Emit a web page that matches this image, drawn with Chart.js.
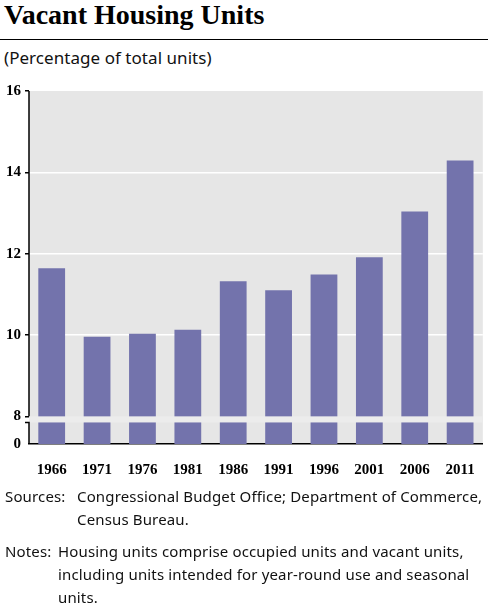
<!DOCTYPE html>
<html lang="en">
<head>
<meta charset="UTF-8">
<title>Vacant Housing Units</title>
<script src="https://cdn.jsdelivr.net/npm/chart.js@4.4.1/dist/chart.umd.min.js"></script>
<style>
  body { margin: 0; width: 492px; height: 604px; background: #fff; position: relative; overflow: hidden; }
  #title { position: absolute; left: 4px; top: -1px; font: bold 28px "Liberation Serif", serif; color: #000; }
  #rule { position: absolute; left: 0; top: 39px; width: 488px; height: 0; border-top: 1.5px solid #000; }
  #sub { position: absolute; left: 4px; top: 46px; font: 17px "Noto Sans", sans-serif; letter-spacing: 0.05px; color: #111; }
  #wrap { position: absolute; left: 0; top: 78px; width: 492px; height: 410px; }
  .note { position: absolute; left: 5px; display: flex; font: 15px "Noto Sans", sans-serif; letter-spacing: 0.15px; color: #111; line-height: 23px; }
  .note .lab { flex: none; }
</style>
</head>
<body>
<div id="title">Vacant Housing Units</div>
<div id="rule"></div>
<div id="sub">(Percentage of total units)</div>
<div id="wrap"><canvas id="mychart" width="492" height="410"></canvas></div>
<div class="note" style="top:485px;"><span class="lab" style="width:72px;">Sources:</span><span>Congressional Budget Office; Department of Commerce,<br>Census Bureau.</span></div>
<div class="note" style="top:540px;"><span class="lab" style="width:53px;">Notes:</span><span>Housing units comprise occupied units and vacant units,<br>including units intended for year-round use and seasonal<br>units.</span></div>

<script>
    const years = ['1966', '1971', '1976', '1981', '1986', '1991', '1996', '2001', '2006', '2011'];
    const vacancyRates = [11.64, 9.96, 10.03, 10.13, 11.32, 11.10, 11.49, 11.91, 13.04, 14.29];
    const yTicks = [8, 10, 12, 14, 16];
    const yBottom = 7.32;   // where the broken axis shows "0"
    const breakTop = 8;
    const breakBottom = 7.85;

    const barColor = '#7373ac';
    const plotBg = '#e6e6e6';

    // gray plot background, broken axis, gap through the bars
    const brokenAxis = {
        id: 'brokenAxis',
        beforeDraw(chart) {
            const a = chart.chartArea;
            const c = chart.ctx;
            c.save();
            c.fillStyle = plotBg;
            c.fillRect(a.left, a.top, a.right - a.left, a.bottom - a.top);
            c.restore();
        },
        afterDatasetsDraw(chart) {
            const a = chart.chartArea;
            const c = chart.ctx;
            const y = chart.scales.y;
            const y1 = y.getPixelForValue(breakTop);
            const y2 = y.getPixelForValue(breakBottom);
            c.save();
            c.fillStyle = '#ececec';
            c.fillRect(a.left, y1, a.right - a.left, y2 - y1);
            c.strokeStyle = '#000';
            c.lineWidth = 1.5;
            c.beginPath();
            c.moveTo(a.left, a.top);
            c.lineTo(a.left, y1);
            c.moveTo(a.left - 4, y2);
            c.lineTo(a.left, y2);
            c.lineTo(a.left, a.bottom);
            c.stroke();
            c.restore();
        }
    };

    var ctx = document.getElementById('mychart');
    var mychart = new Chart(ctx, {
        type: 'bar',
        data: {
            labels: years,
            datasets: [{
                label: 'Vacant units',
                data: vacancyRates,
                backgroundColor: barColor,
                barPercentage: 0.59,
                categoryPercentage: 1.0
            }]
        },
        options: {
            responsive: false,
            animation: false,
            devicePixelRatio: 1,
            layout: { padding: { top: 12, right: 6, left: 0, bottom: 0 } },
            plugins: {
                legend: { display: false },
                tooltip: { enabled: false }
            },
            scales: {
                x: {
                    grid: { display: false, drawTicks: false },
                    border: { display: true, color: '#000', width: 1.5 },
                    ticks: {
                        padding: 17,
                        color: '#000',
                        font: { family: 'Liberation Serif', weight: 'bold', size: 15 }
                    },
                    afterFit(scale) { scale.height = 44; }
                },
                y: {
                    min: yBottom,
                    max: 16,
                    border: { display: false },
                    afterBuildTicks(scale) {
                        scale.ticks = [yBottom].concat(yTicks).map(v => ({ value: v }));
                    },
                    grid: {
                        drawTicks: true,
                        tickLength: 4,
                        lineWidth: 1.5,
                        color: c => (c.tick && c.tick.value > 8 && c.tick.value < 16) ? '#ffffff' : 'rgba(0,0,0,0)',
                        tickColor: c => (c.tick && c.tick.value >= 8) ? '#000' : 'rgba(0,0,0,0)'
                    },
                    ticks: {
                        padding: 4,
                        color: '#000',
                        font: { family: 'Liberation Serif', weight: 'bold', size: 15 },
                        callback: v => (v === yBottom ? '0' : String(v))
                    },
                    afterFit(scale) { scale.width = 29; }
                }
            }
        },
        plugins: [brokenAxis]
    });
</script>
</body>
</html>
